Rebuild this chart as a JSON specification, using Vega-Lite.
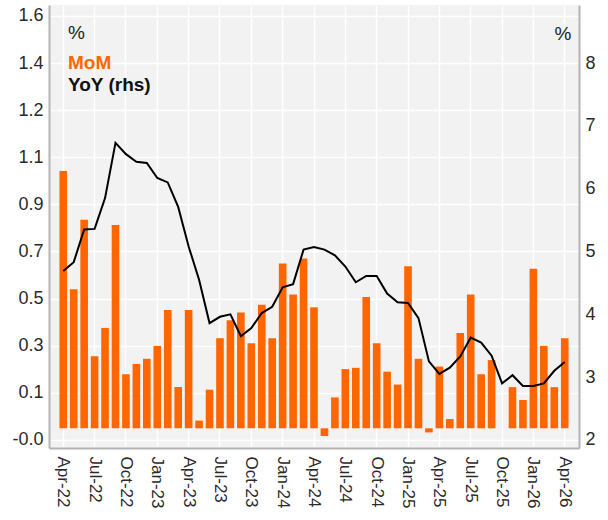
{
  "$schema": "https://vega.github.io/schema/vega-lite/v6.json",
  "width": 530,
  "height": 443,
  "autosize": "none",
  "padding": {"left": 49, "top": 5, "right": 29, "bottom": 72},
  "background": "white",
  "config": {
    "view": {"fill": "#f2f2f2", "stroke": null},
    "font": "Liberation Sans",
    "axis": {"labelFont": "Liberation Sans", "labelFontSize": 17, "labelColor": "#2a2a2a", "domainColor": "#b4b4b4", "domainWidth": 2, "ticks": false, "gridColor": "#ffffff", "gridWidth": 1.5, "gridOpacity": 1}
  },
  "data": {"values": [
    {"month": "Apr-22", "MoM": 1.0, "YoY": 4.69},
    {"month": "May-22", "MoM": 0.54, "YoY": 4.83},
    {"month": "Jun-22", "MoM": 0.81, "YoY": 5.35},
    {"month": "Jul-22", "MoM": 0.28, "YoY": 5.36},
    {"month": "Aug-22", "MoM": 0.39, "YoY": 5.85},
    {"month": "Sep-22", "MoM": 0.79, "YoY": 6.73},
    {"month": "Oct-22", "MoM": 0.21, "YoY": 6.55},
    {"month": "Nov-22", "MoM": 0.25, "YoY": 6.43},
    {"month": "Dec-22", "MoM": 0.27, "YoY": 6.41},
    {"month": "Jan-23", "MoM": 0.32, "YoY": 6.17},
    {"month": "Feb-23", "MoM": 0.46, "YoY": 6.1},
    {"month": "Mar-23", "MoM": 0.16, "YoY": 5.71},
    {"month": "Apr-23", "MoM": 0.46, "YoY": 5.08},
    {"month": "May-23", "MoM": 0.03, "YoY": 4.55},
    {"month": "Jun-23", "MoM": 0.15, "YoY": 3.86},
    {"month": "Jul-23", "MoM": 0.35, "YoY": 3.96},
    {"month": "Aug-23", "MoM": 0.42, "YoY": 4.0},
    {"month": "Sep-23", "MoM": 0.45, "YoY": 3.65},
    {"month": "Oct-23", "MoM": 0.33, "YoY": 3.78},
    {"month": "Nov-23", "MoM": 0.48, "YoY": 4.02},
    {"month": "Dec-23", "MoM": 0.35, "YoY": 4.12},
    {"month": "Jan-24", "MoM": 0.64, "YoY": 4.43},
    {"month": "Feb-24", "MoM": 0.52, "YoY": 4.48},
    {"month": "Mar-24", "MoM": 0.66, "YoY": 5.03},
    {"month": "Apr-24", "MoM": 0.47, "YoY": 5.07},
    {"month": "May-24", "MoM": -0.03, "YoY": 5.03},
    {"month": "Jun-24", "MoM": 0.12, "YoY": 4.94},
    {"month": "Jul-24", "MoM": 0.23, "YoY": 4.76},
    {"month": "Aug-24", "MoM": 0.235, "YoY": 4.51},
    {"month": "Sep-24", "MoM": 0.51, "YoY": 4.61},
    {"month": "Oct-24", "MoM": 0.33, "YoY": 4.61},
    {"month": "Nov-24", "MoM": 0.22, "YoY": 4.33},
    {"month": "Dec-24", "MoM": 0.17, "YoY": 4.19},
    {"month": "Jan-25", "MoM": 0.63, "YoY": 4.18},
    {"month": "Feb-25", "MoM": 0.27, "YoY": 3.94},
    {"month": "Mar-25", "MoM": -0.016, "YoY": 3.25},
    {"month": "Apr-25", "MoM": 0.24, "YoY": 3.05},
    {"month": "May-25", "MoM": 0.036, "YoY": 3.15},
    {"month": "Jun-25", "MoM": 0.37, "YoY": 3.33},
    {"month": "Jul-25", "MoM": 0.52, "YoY": 3.63},
    {"month": "Aug-25", "MoM": 0.21, "YoY": 3.55},
    {"month": "Sep-25", "MoM": 0.265, "YoY": 3.34},
    {"month": "Oct-25", "MoM": null, "YoY": 2.9},
    {"month": "Nov-25", "MoM": 0.16, "YoY": 3.03},
    {"month": "Dec-25", "MoM": 0.11, "YoY": 2.86},
    {"month": "Jan-26", "MoM": 0.62, "YoY": 2.86},
    {"month": "Feb-26", "MoM": 0.32, "YoY": 2.9},
    {"month": "Mar-26", "MoM": 0.16, "YoY": 3.1},
    {"month": "Apr-26", "MoM": 0.35, "YoY": 3.24}
  ]},
  "encoding": {
    "x": {
      "field": "month", "type": "ordinal", "sort": null,
      "scale": {
        "domain": ["Apr-22", "May-22", "Jun-22", "Jul-22", "Aug-22", "Sep-22", "Oct-22", "Nov-22", "Dec-22", "Jan-23", "Feb-23", "Mar-23", "Apr-23", "May-23", "Jun-23", "Jul-23", "Aug-23", "Sep-23", "Oct-23", "Nov-23", "Dec-23", "Jan-24", "Feb-24", "Mar-24", "Apr-24", "May-24", "Jun-24", "Jul-24", "Aug-24", "Sep-24", "Oct-24", "Nov-24", "Dec-24", "Jan-25", "Feb-25", "Mar-25", "Apr-25", "May-25", "Jun-25", "Jul-25", "Aug-25", "Sep-25", "Oct-25", "Nov-25", "Dec-25", "Jan-26", "Feb-26", "Mar-26", "Apr-26"],
        "paddingInner": 0.27, "paddingOuter": 1.3
      },
      "axis": {
        "title": null,
        "values": ["Apr-22", "Jul-22", "Oct-22", "Jan-23", "Apr-23", "Jul-23", "Oct-23", "Jan-24", "Apr-24", "Jul-24", "Oct-24", "Jan-25", "Apr-25", "Jul-25", "Oct-25", "Jan-26", "Apr-26"],
        "labelAngle": 90, "labelAlign": "left", "labelBaseline": "middle", "labelPadding": 8,
        "grid": true, "bandPosition": 0.5
      }
    }
  },
  "layer": [
    {
      "mark": {"type": "bar"},
      "encoding": {
        "y": {
          "field": "MoM", "type": "quantitative",
          "scale": {"domain": [-0.0765, 1.6445], "nice": false, "zero": false},
          "axis": {
            "title": null, "grid": true, "labelFontSize": 18,
            "values": [-0.045, 0.138, 0.321, 0.504, 0.687, 0.87, 1.053, 1.236, 1.419, 1.602],
            "labelExpr": "datum.value < 0 ? '-0.0' : format(datum.value, '.1f')",
            "labelPadding": 6
          }
        },
        "color": {
          "datum": "MoM",
          "scale": {"domain": ["MoM", "YoY (rhs)"], "range": ["#ff6600", "#000000"]},
          "legend": {
            "orient": "top-left", "offset": 19, "padding": 0,
            "title": "%", "titleFontSize": 19, "titleFontWeight": "normal", "titleColor": "#222222", "titlePadding": 10,
            "labelFontSize": 19, "labelFontWeight": "bold", "labelOffset": -19,
            "symbolSize": 0, "symbolOpacity": 0, "symbolStrokeWidth": 0, "rowPadding": 2,
            "encode": {"labels": {"update": {"fill": {"signal": "datum.value === 'MoM' ? '#ff6600' : '#111111'"}}}}
          }
        }
      }
    },
    {
      "mark": {"type": "line", "strokeWidth": 2},
      "encoding": {
        "y": {
          "field": "YoY", "type": "quantitative",
          "scale": {"domain": [1.871, 8.925], "nice": false, "zero": false},
          "axis": {
            "orient": "right", "grid": false, "values": [2, 3, 4, 5, 6, 7, 8], "labelPadding": 6, "labelFontSize": 18,
            "title": "%", "titleAngle": 0, "titleX": -16.5, "titleY": 28.5, "titleAlign": "center", "titleBaseline": "middle",
            "titleFontSize": 19, "titleFontWeight": "normal", "titleColor": "#222222"
          }
        },
        "color": {"datum": "YoY (rhs)"}
      }
    }
  ],
  "resolve": {"scale": {"y": "independent"}}
}
